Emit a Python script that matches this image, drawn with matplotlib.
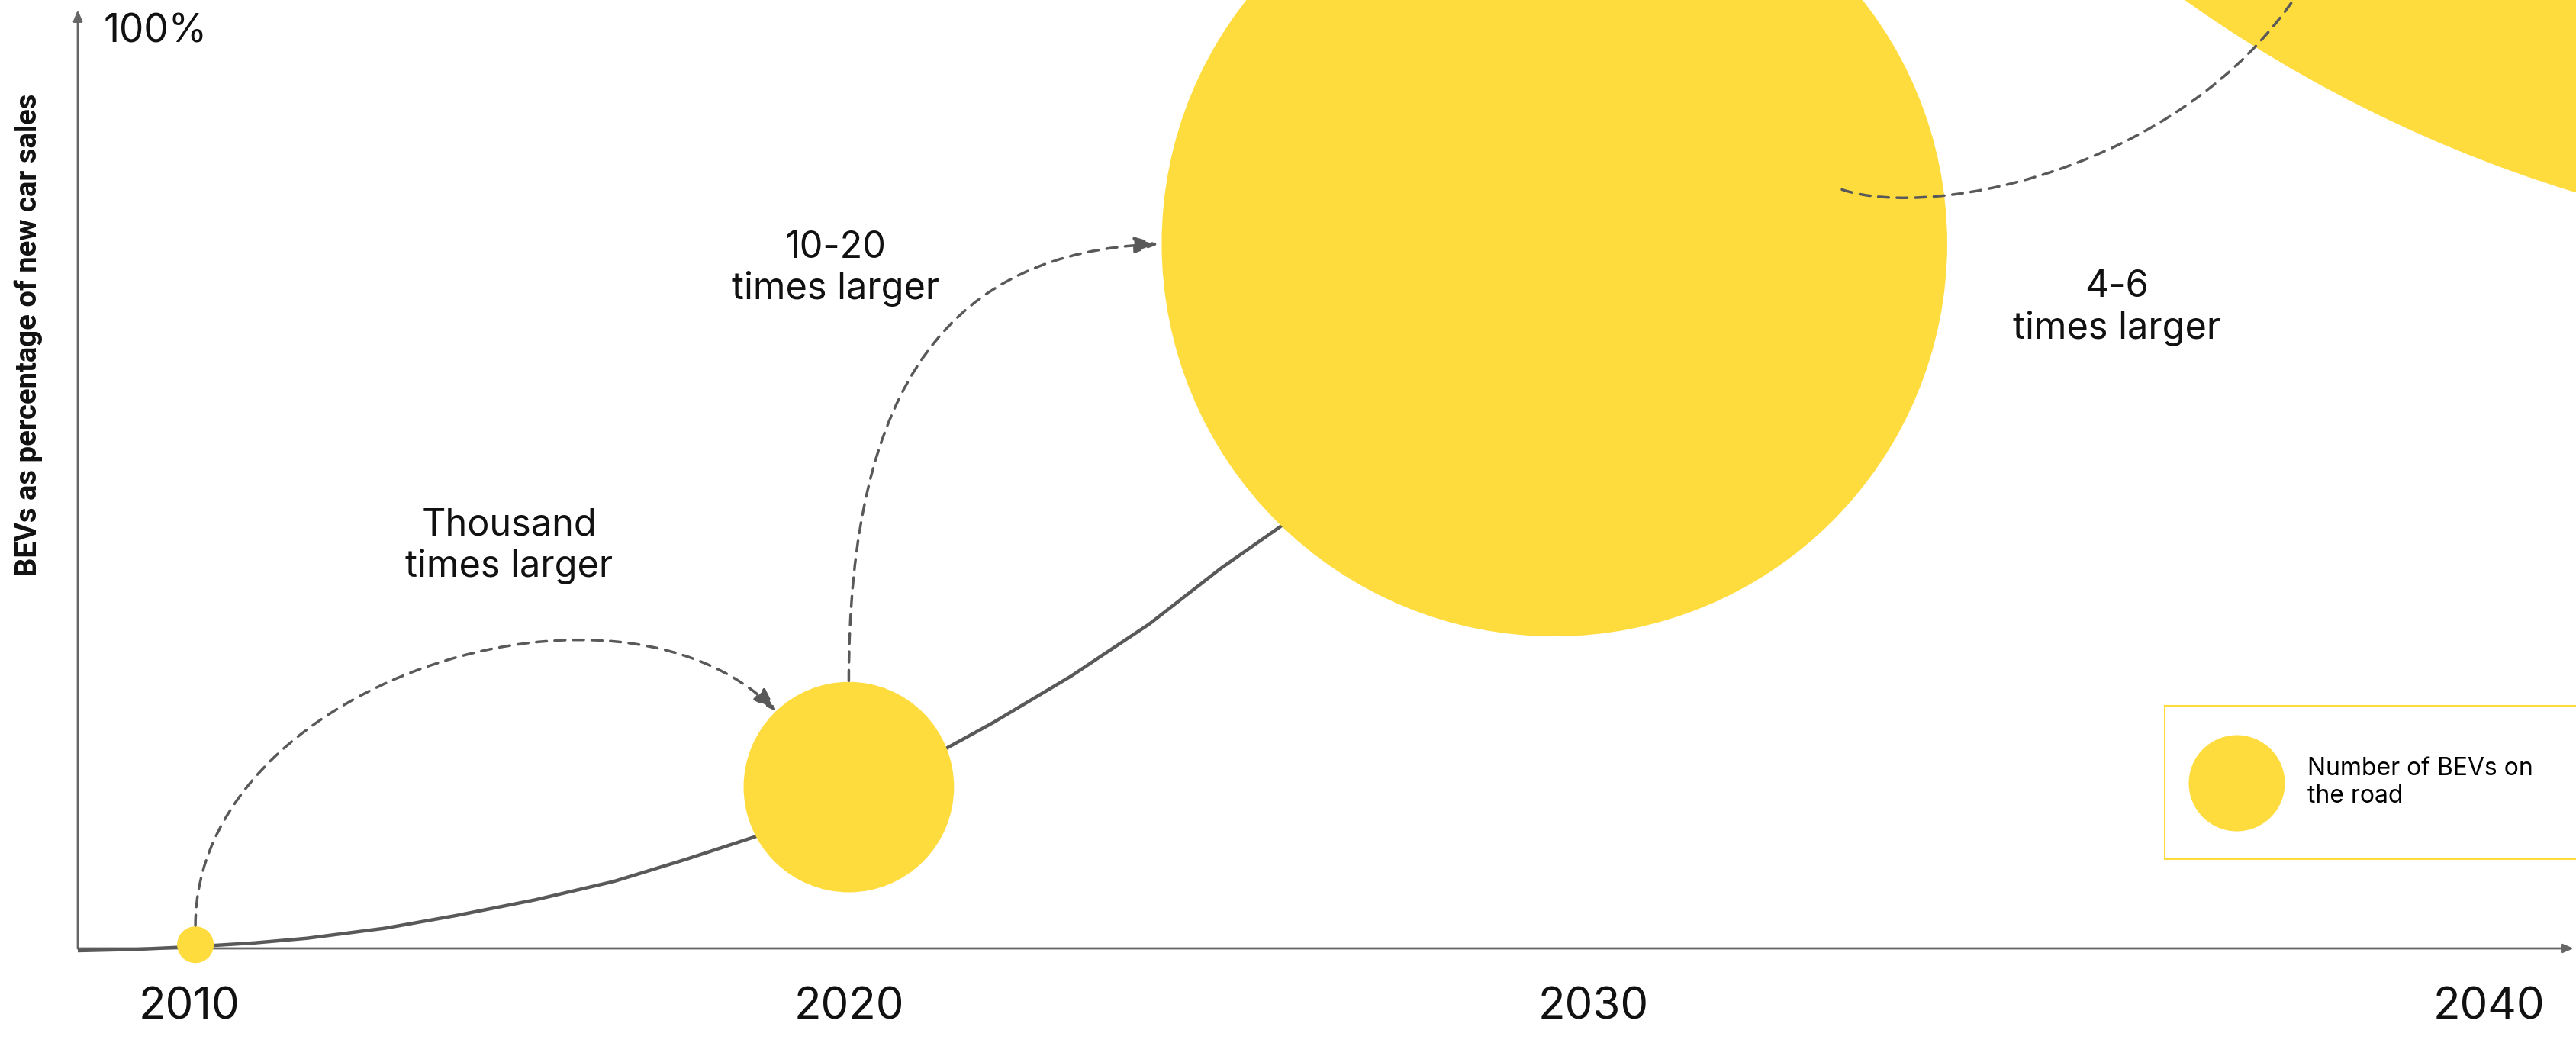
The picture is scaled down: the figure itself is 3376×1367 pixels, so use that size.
import numpy as np
import matplotlib.pyplot as plt
from matplotlib.patches import FancyArrowPatch, ArrowStyle
from matplotlib.path import Path
from matplotlib.lines import Line2D

plt.rcParams['font.family'] = ['Inter', 'DejaVu Sans']

# adoption curve: BEV share of new car sales (%)
curve_year = [2008.2, 2009.1, 2010.0, 2010.9, 2011.7, 2012.9, 2014.0, 2015.2, 2016.4, 2017.5,
              2018.7, 2019.9, 2021.0, 2022.2, 2023.4, 2024.6, 2025.7, 2026.6, 2027.5, 2028.6]
curve_share = [-0.25, -0.1, 0.2, 0.6, 1.1, 2.2, 3.6, 5.3, 7.3, 9.7,
               12.5, 15.7, 19.9, 24.6, 29.7, 35.4, 41.5, 46.0, 51.0, 57.7]

# bubbles: number of BEVs on the road (relative to 2010)
bubble_year = [2010.0, 2020.0, 2030.8, 2052.5]
bubble_share = [0.4, 17.6, 76.9, 224.2]
bubble_fleet = [1, 33, 460, 5500]

tick_pos = [2009.9, 2020.0, 2031.4, 2045.1]
tick_labels = ['2010', '2020', '2030', '2040']

growth_labels = ['Thousand\ntimes larger', '10-20\ntimes larger', '4-6\ntimes larger']
growth_year = [2014.8, 2019.8, 2039.4]
growth_share = [43.9, 74.2, 69.9]

# dashed connectors between bubbles (cubic bezier: start, ctrl, ctrl, end)
arrow_paths = [
    [(2010.0, 2.5), (2010.0, 28.6), (2016.4, 43.6), (2018.9, 25.8)],
    [(2020.0, 29.2), (2020.0, 61.9), (2021.6, 76.0), (2024.75, 76.85)],
    [(2035.2, 82.8), (2036.6, 79.4), (2040.7, 85.2), (2042.4, 106.8)],
]

yellow = '#FFDC3E'
grey = '#595959'

fig = plt.figure(figsize=(33.76, 13.67), dpi=100)
ax = fig.add_axes([102 / 3376, 124 / 1367, 3271 / 3376, 1230 / 1367])
ax.set_xlim(2008.2, 2046.4)
ax.set_ylim(0, 102.4)
for s in ax.spines.values():
    s.set_visible(False)

# axes with arrow heads
axis_style = dict(arrowstyle=ArrowStyle('-|>', head_length=0.86, head_width=0.36),
                  mutation_scale=10, color='#666666', lw=2, shrinkA=0, shrinkB=0)
ax.annotate('', xy=(1, 0), xytext=(0, 0), xycoords='axes fraction', arrowprops=axis_style, zorder=1)
ax.annotate('', xy=(0, 1), xytext=(0, 0), xycoords='axes fraction', arrowprops=axis_style, zorder=1)

ax.plot(curve_year, curve_share, color=grey, lw=3.2, zorder=2, clip_on=False,
        solid_joinstyle='round', solid_capstyle='butt')

radius_px = 24 * np.sqrt(np.array(bubble_fleet))
sizes = (2 * radius_px * 72 / fig.dpi) ** 2
ax.scatter(bubble_year, bubble_share, s=sizes, color=yellow, edgecolors='none',
           zorder=3, clip_on=False)

codes = [Path.MOVETO, Path.CURVE4, Path.CURVE4, Path.CURVE4]
for i, pts in enumerate(arrow_paths):
    if i < 2:
        style = ArrowStyle('-|>', head_length=0.97, head_width=0.32)
    else:
        style = ArrowStyle('-')
    arr = FancyArrowPatch(path=Path(pts, codes), arrowstyle=style, mutation_scale=20,
                          color=grey, lw=2.5, linestyle=(0, (4, 3)), zorder=4, clip_on=False)
    ax.add_patch(arr)

for lab, x, y in zip(growth_labels, growth_year, growth_share):
    ax.text(x, y, lab, fontsize=35, ha='center', va='center', linespacing=1.2, color='#111111')

ax.text(2008.59, 100, '100%', fontsize=37, ha='left', va='center', color='#111111')

ax.set_xticks(tick_pos, tick_labels, fontsize=42, color='#111111')
ax.tick_params(axis='x', length=0, pad=36)
ax.set_yticks([])

ax.set_ylabel('BEVs as percentage of new car sales', fontsize=27.5, fontweight='bold',
              family=['Roboto', 'DejaVu Sans'], color='#111111')
ax.yaxis.set_label_coords(-0.014, 0.654)

proxy = Line2D([], [], marker='o', linestyle='none', markersize=2 * 63 * 0.72,
               markerfacecolor=yellow, markeredgewidth=0, label='Number of BEVs on\nthe road')
leg = ax.legend(handles=[proxy], loc='upper left', bbox_to_anchor=(2837 / 3376, 442 / 1367),
                bbox_transform=fig.transFigure, fontsize=23, borderpad=2.1, handlelength=1.7,
                handletextpad=2.05, borderaxespad=0, fancybox=False, framealpha=1)
leg.get_frame().set_edgecolor(yellow)
leg.get_frame().set_linewidth(1.5)

fig.savefig('out.png', dpi=100)
